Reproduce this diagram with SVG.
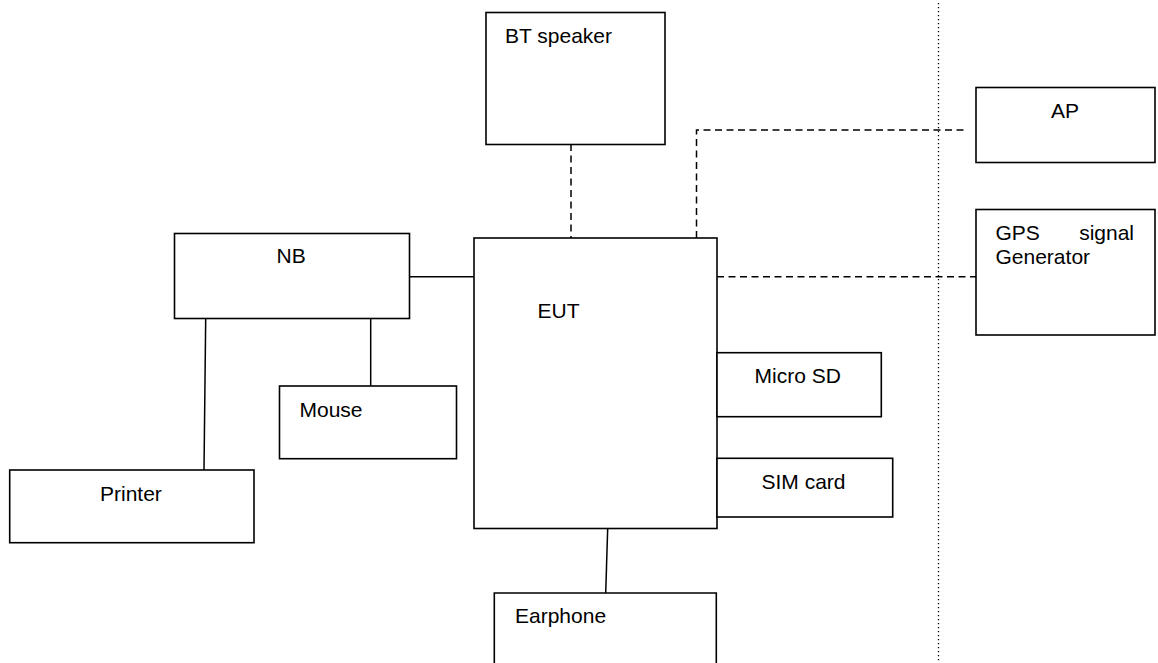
<svg xmlns="http://www.w3.org/2000/svg" width="1158" height="663" viewBox="0 0 1158 663">
<style>
.box{fill:#fff;stroke:#000;stroke-width:1.6}
.ln{fill:none;stroke:#000;stroke-width:1.5}
.dash{fill:none;stroke:#000;stroke-width:1.5;stroke-dasharray:7 4.5}
.dot{fill:none;stroke:#000;stroke-width:1.3;stroke-dasharray:1.3 2.7}
text{font-family:"Liberation Sans",Arial,sans-serif;font-size:21px;fill:#000}
</style>
<rect width="1158" height="663" fill="#fff"/>
<g id="connectors">
<line class="dot" x1="938.5" y1="3" x2="938.5" y2="663"/>
<line class="dash" x1="571" y1="144" x2="571" y2="238"/>
<polyline class="dash" points="696.5,238 696.5,130 967,130"/>
<line class="dash" x1="717" y1="276.7" x2="976" y2="276.7"/>
<line class="ln" x1="409" y1="276.7" x2="474" y2="276.7"/>
<line class="ln" x1="205.7" y1="318" x2="204" y2="470"/>
<line class="ln" x1="370.7" y1="318" x2="370.7" y2="386"/>
<line class="ln" x1="607.7" y1="528" x2="605.7" y2="593"/>
</g>
<g id="bt-speaker"><rect class="box" x="486" y="12.5" width="179" height="132"/><text x="505" y="43.3">BT speaker</text></g>
<g id="ap"><rect class="box" x="976" y="87.5" width="179" height="75"/><text x="1051" y="118">AP</text></g>
<g id="gps"><rect class="box" x="976" y="209.5" width="179" height="125.5"/><text x="995.5" y="240">GPS</text><text x="1134" y="240" text-anchor="end">signal</text><text x="995.5" y="264">Generator</text></g>
<g id="nb"><rect class="box" x="174.5" y="233.5" width="235" height="85"/><text x="276.5" y="263.3">NB</text></g>
<g id="eut"><rect class="box" x="474" y="238" width="243" height="290.5"/><text x="537.5" y="318.3">EUT</text></g>
<g id="mouse"><rect class="box" x="279.5" y="386" width="177" height="72.7"/><text x="299.5" y="416.7">Mouse</text></g>
<g id="printer"><rect class="box" x="9.7" y="470" width="244.3" height="72.7"/><text x="100" y="501">Printer</text></g>
<g id="micro-sd"><rect class="box" x="717" y="352.7" width="164.3" height="64"/><text x="754.5" y="382.7">Micro SD</text></g>
<g id="sim-card"><rect class="box" x="717" y="458.3" width="175.7" height="58.7"/><text x="761.5" y="489">SIM card</text></g>
<g id="earphone"><path class="box" d="M494.3,670 V593 H716.3 V670"/><text x="515" y="623.3">Earphone</text></g>
</svg>
